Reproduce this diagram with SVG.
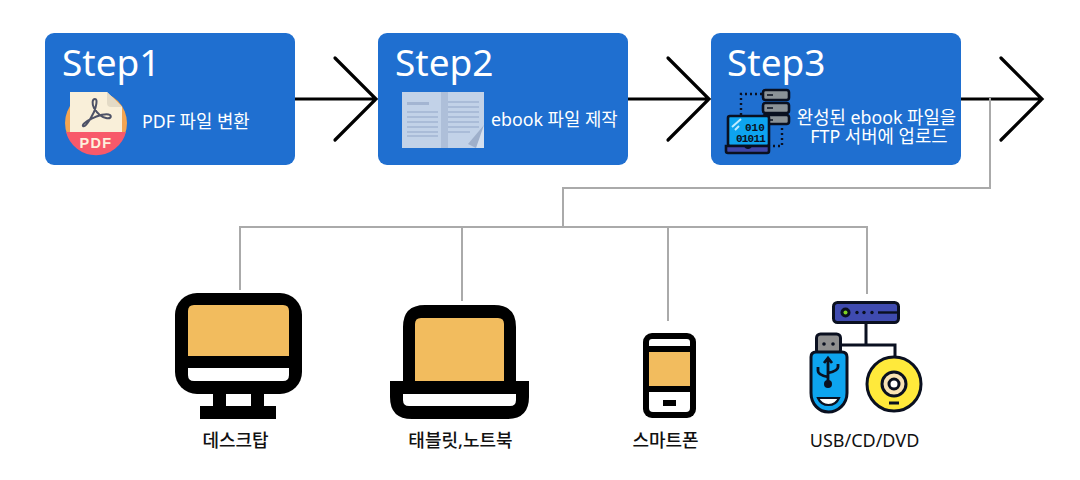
<svg xmlns="http://www.w3.org/2000/svg" width="1080" height="480" viewBox="0 0 1080 480">
<style>
text{font-family:"Noto Sans","Noto Sans CJK KR",sans-serif}
.box{fill:#1f6fd0}
.st{fill:#fff;font-size:37px}
.t{fill:#fff;font-size:17.8px}
.lb{fill:#111;font-size:18px;text-anchor:middle;font-weight:500}
.ar{fill:none;stroke:#000;stroke-width:3.2;stroke-linecap:round;stroke-linejoin:miter}
.gr{fill:none;stroke:#aaa;stroke-width:2}
.bk{fill:#000}.or{fill:#f2bc5e}.wh{fill:#fff}
.bl{fill:#a3b5d2}
.o{stroke:#0a1020;stroke-width:2.6}
.d{fill:none;stroke:#0a1020;stroke-width:2.4;stroke-dasharray:2 3}
.mn{fill:#0a1020;font-family:"Liberation Mono",monospace;font-weight:700;font-size:11px}
.m{stroke:#0a1020;stroke-width:3}
</style>
<g id="connectors">
<path class="ar" d="M295 99H376M335 58L376 99L335 140"/>
<path class="ar" d="M628 99H709M668 58L709 99L668 140"/>
<path class="ar" d="M961 99H1042M1001 58L1042 99L1001 140"/>
<path class="gr" d="M990 98V188H563V227M240 290V227H867V294M462 227V301M668 227V321"/>
</g>
<g id="step1">
<rect class="box" x="45" y="33" width="250" height="132" rx="9"/>
<text class="st" x="62" y="76">Step1</text>
<circle cx="96" cy="123" r="31" fill="#f4a551"/>
<path d="M66 132H126A31 31 0 0 1 66 132Z" fill="#f8596a"/>
<path d="M70 92H107L122 107V132H70Z" fill="#f9efd9"/>
<path d="M107 92L122 107H111Q107 107 107 103Z" fill="#e3dac6"/>
<path d="M95 99C92 99 92 104 94 108C97 113 101 117 106 118C110 119 112 117 110 115C107 113 98 115 91 119C85 122 82 125 83 126C85 128 90 120 94 112C96 107 98 99 95 99Z" fill="none" stroke="#4d5166" stroke-width="2"/>
<text x="96" y="148" text-anchor="middle" fill="#fdf0dc" style="font-family:'Liberation Sans',sans-serif;font-size:14.500px;font-weight:700;letter-spacing:1.300px">PDF</text>
<text class="t" x="142" y="128">PDF 파일 변환</text>
</g>
<g id="step2">
<rect class="box" x="378" y="33" width="250" height="132" rx="9"/>
<text class="st" x="395" y="76">Step2</text>
<rect x="402" y="92" width="82" height="56" fill="#c2d2e8"/>
<rect x="441" y="92" width="7" height="56" fill="#aebfd9"/>
<rect class="bl" x="407" y="102" width="22" height="3"/>
<path d="M407 112H438M407 117H438M407 122H438M407 127H438M407 132H438M407 136H438M448 102H479M448 107H479M448 112H479M448 117H479M448 122H479M448 127H479M448 132H470" stroke="#a3b5d2" stroke-width="1.600"/>
<path d="M484 125L468 144L476 148H484Z" fill="#9fb0cb"/>
<path d="M484 125L476 148H484Z" fill="#d5e0ef"/>
<text class="t" x="491" y="126">ebook 파일 제작</text>
</g>
<g id="step3">
<rect class="box" x="711" y="33" width="250" height="132" rx="9"/>
<text class="st" x="727" y="76">Step3</text>
<path class="d" d="M741 115V94H762M782 128V146H772"/>
<rect class="o" x="763" y="90" width="26" height="10" rx="2.500" fill="#8b9297"/>
<rect class="o" x="763" y="103" width="26" height="10" rx="2.500" fill="#8b9297"/>
<rect class="o" x="763" y="115" width="26" height="9" rx="2.500" fill="#8b9297"/>
<path d="M767 95H773M767 108H773M767 120H773" stroke="#0a1020" stroke-width="1.600"/>
<rect class="o" x="728" y="116" width="41" height="30" rx="2" fill="#0da4ef"/>
<path d="M732 127L741 119M735 130L739 126" stroke="#bfeaff" stroke-width="2"/>
<text class="mn" x="745" y="131">010</text>
<text class="mn" x="736" y="142" style="letter-spacing:-.8px">01011</text>
<path class="o" d="M726 146H769V151Q769 153 767 153H728Q726 153 726 151Z" fill="#3f46a8"/>
<path d="M744 146H752Q751 149 748 149Q745 149 744 146Z" fill="#0a1020"/>
<text class="t" text-anchor="middle"><tspan x="876.500" y="124">완성된 ebook 파일을</tspan><tspan x="879" y="143">FTP 서버에 업로드</tspan></text>
</g>
<g id="desktop">
<rect class="bk" x="175" y="293" width="127" height="101" rx="22"/>
<path class="or" d="M188 356V311Q188 305 194 305H283Q289 305 289 311V356Z"/>
<path class="wh" d="M188 368H289V375Q289 381 283 381H194Q188 381 188 375Z"/>
<path class="bk" d="M213 392H264V406H276V419H200V406H213Z"/>
<rect class="wh" x="226" y="394" width="25" height="12"/>
<text class="lb" x="235.500" y="447">데스크탑</text>
</g>
<g id="laptop">
<path class="bk" d="M403 381V327Q403 305 425 305H494Q516 305 516 327V381H529V397Q529 419 507 419H412Q390 419 390 397V381Z"/>
<path class="or" d="M415 381V324Q415 318 421 318H498Q504 318 504 324V381Z"/>
<path class="wh" d="M403 394H516V400Q516 406 510 406H409Q403 406 403 400Z"/>
<text class="lb" x="460.500" y="447">태블릿,노트북</text>
</g>
<g id="smartphone">
<rect class="bk" x="643" y="333" width="53" height="85" rx="9"/>
<path class="wh" d="M649 346V342Q649 339 652 339H687Q690 339 690 342V346Z"/>
<rect class="or" x="649" y="352" width="41" height="34"/>
<path class="wh" d="M649 392H690V408Q690 412 686 412H653Q649 412 649 408Z"/>
<rect class="bk" x="663" y="400" width="13" height="6"/>
<text class="lb" x="665.500" y="447">스마트폰</text>
</g>
<g id="media">
<path class="m" fill="none" d="M866 323V345M842 345H895V358"/>
<rect class="m" x="833.500" y="302.500" width="65" height="20" rx="4" fill="#3f4bb0"/>
<circle cx="845.500" cy="312.500" r="5" fill="#0a1020"/><circle cx="845.500" cy="312.500" r="2" fill="#7ed321"/>
<circle cx="857" cy="312.500" r="1.700" fill="#0a1020"/><circle cx="864" cy="312.500" r="1.700" fill="#0a1020"/><circle cx="872" cy="312.500" r="1.700" fill="#0a1020"/>
<path d="M878 312.500H897" stroke="#0a1020" stroke-width="2.400"/>
<rect class="m" x="816.500" y="334" width="24" height="20" rx="4" fill="#8f8f8f"/>
<circle cx="824" cy="344" r="1.800" fill="#0a1020"/><circle cx="833" cy="344" r="1.800" fill="#0a1020"/>
<path class="m" d="M816 352H842Q847 352 847 357V393C847 404 838 412 828.500 412C819 412 811 404 811 393V357Q811 352 816 352Z" fill="#0da4ef"/>
<path d="M828 360V382M818 367V371Q818 375 828 377M838 364V367Q838 371 828 373M824 363L828 358L832 363" fill="none" stroke="#0a1020" stroke-width="2.800"/>
<circle cx="828" cy="384" r="4" fill="#0a1020"/>
<path d="M818 398H839Q836 405 828.500 405Q821 405 818 398Z" fill="#fff" stroke="#0a1020" stroke-width="2.200"/>
<circle cx="894" cy="384" r="27" fill="#ffe93b" stroke="#0a1020" stroke-width="3"/>
<circle cx="894" cy="384" r="12" fill="#f8e2b4" stroke="#0a1020" stroke-width="3"/>
<circle cx="894" cy="384" r="5" fill="#fff" stroke="#0a1020" stroke-width="3"/>
<path d="M889 403H899" stroke="#0a1020" stroke-width="3"/>
<text class="lb" x="864.500" y="447" style="font-weight:400">USB/CD/DVD</text>
</g>
</svg>
